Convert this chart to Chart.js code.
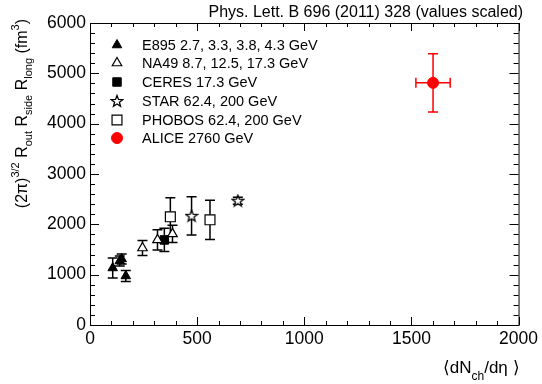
<!DOCTYPE html>
<html>
<head>
<meta charset="utf-8">
<script src="https://cdn.jsdelivr.net/npm/chart.js@4.4.0/dist/chart.umd.min.js"></script>
<style>
  html, body { margin: 0; padding: 0; background: #fff; }
  #wrap { width: 542px; height: 384px; position: relative; }
</style>
</head>
<body>
<div id="wrap"><canvas id="chart"></canvas></div>
<script>
// data
const e895X = [106, 139, 148, 167];
const e895Y = [1133, 1272, 1312, 974];
const e895Err = [200, 100, 100, 110];

const na49X = [245, 315, 385];
const na49Y = [1530, 1690, 1810];
const na49Err = [150, 200, 170];

const ceresX = [347];
const ceresY = [1690];
const ceresErr = [230];

const starX = [474, 690];
const starY = [2170, 2470];
const starErr = [380, 70];

const phobosX = [375, 560];
const phobosY = [2150, 2090];
const phobosErr = [380, 390];

const aliceX = [1601];
const aliceY = [4811];
const aliceErr = [580];
const aliceXErr = [80];

const xTickValues = [0, 500, 1000, 1500, 2000];
const yTickValues = [0, 1000, 2000, 3000, 4000, 5000, 6000];

const legendLabels = [
  'E895 2.7, 3.3, 3.8, 4.3 GeV',
  'NA49 8.7, 12.5, 17.3 GeV',
  'CERES 17.3 GeV',
  'STAR 62.4, 200 GeV',
  'PHOBOS 62.4, 200 GeV',
  'ALICE 2760 GeV',
];

const FONT = '"Liberation Sans", Arial, Helvetica, sans-serif';

function points(xs, ys, yErr, xErr) {
  return xs.map((x, i) => ({ x, y: ys[i], yErr: yErr[i], xErr: xErr ? xErr[i] : 0 }));
}

// open five-pointed star marker
function makeStar(size) {
  const c = document.createElement('canvas');
  c.width = size; c.height = size;
  const g = c.getContext('2d');
  const cx = size / 2, cy = size / 2 + 0.5, R = size / 2 - 1, r = R * 0.42;
  g.beginPath();
  for (let i = 0; i < 10; i++) {
    const a = -Math.PI / 2 + i * Math.PI / 5;
    const rr = i % 2 ? r : R;
    g.lineTo(cx + rr * Math.cos(a), cy + rr * Math.sin(a));
  }
  g.closePath();
  g.fillStyle = '#fff';
  g.fill();
  g.lineWidth = 1.3;
  g.strokeStyle = '#000';
  g.stroke();
  return c;
}
const starImg = makeStar(14);

const datasets = [
  { label: legendLabels[0], data: points(e895X, e895Y, e895Err), pointStyle: 'triangle', pointRadius: 5.5, backgroundColor: '#000', borderColor: '#000', borderWidth: 1, errColor: '#000' },
  { label: legendLabels[1], data: points(na49X, na49Y, na49Err), pointStyle: 'triangle', pointRadius: 5.5, backgroundColor: '#fff', borderColor: '#000', borderWidth: 1.2, errColor: '#000' },
  { label: legendLabels[2], data: points(ceresX, ceresY, ceresErr), pointStyle: 'rect', pointRadius: 6, backgroundColor: '#000', borderColor: '#000', borderWidth: 1, errColor: '#000' },
  { label: legendLabels[3], data: points(starX, starY, starErr), pointStyle: starImg, pointRadius: 7, backgroundColor: '#fff', borderColor: '#000', errColor: '#000' },
  { label: legendLabels[4], data: points(phobosX, phobosY, phobosErr), pointStyle: 'rect', pointRadius: 7, backgroundColor: '#fff', borderColor: '#000', borderWidth: 1.2, errColor: '#000' },
  { label: legendLabels[5], data: points(aliceX, aliceY, aliceErr, aliceXErr), pointStyle: 'circle', pointRadius: 5.5, backgroundColor: '#ff0000', borderColor: '#ff0000', borderWidth: 1, errColor: '#ff0000' },
];

const errorBars = {
  id: 'errorBars',
  beforeDatasetsDraw(chart) {
    const { ctx, scales: { x, y } } = chart;
    ctx.save();
    ctx.lineWidth = 1.5;
    chart.data.datasets.forEach(ds => {
      ctx.strokeStyle = ds.errColor;
      ds.data.forEach(p => {
        const px = x.getPixelForValue(p.x), py = y.getPixelForValue(p.y);
        const cap = 5;
        if (p.yErr) {
          const t = y.getPixelForValue(p.y + p.yErr), b = y.getPixelForValue(p.y - p.yErr);
          ctx.beginPath();
          ctx.moveTo(px, t); ctx.lineTo(px, b);
          ctx.moveTo(px - cap, t); ctx.lineTo(px + cap, t);
          ctx.moveTo(px - cap, b); ctx.lineTo(px + cap, b);
          ctx.stroke();
        }
        if (p.xErr) {
          const l = x.getPixelForValue(p.x - p.xErr), r = x.getPixelForValue(p.x + p.xErr);
          ctx.beginPath();
          ctx.moveTo(l, py); ctx.lineTo(r, py);
          ctx.moveTo(l, py - cap); ctx.lineTo(l, py + cap);
          ctx.moveTo(r, py - cap); ctx.lineTo(r, py + cap);
          ctx.stroke();
        }
      });
    });
    ctx.restore();
  }
};

// ROOT style frame: inward ticks on all four sides
const frame = {
  id: 'frame',
  afterDraw(chart) {
    const { ctx, chartArea: a, scales: { x, y } } = chart;
    ctx.save();
    ctx.strokeStyle = '#000';
    ctx.lineWidth = 1;
    ctx.strokeRect(a.left + 0.5, a.top + 0.5, a.right - a.left, a.bottom - a.top);
    ctx.beginPath();
    for (let v = 0; v <= 2000; v += 100) {
      const px = Math.round(x.getPixelForValue(v)) + 0.5;
      const len = v % 500 === 0 ? 8 : 4;
      ctx.moveTo(px, a.bottom); ctx.lineTo(px, a.bottom - len);
      ctx.moveTo(px, a.top); ctx.lineTo(px, a.top + len);
    }
    for (let v = 0; v <= 6000; v += 200) {
      const py = Math.round(y.getPixelForValue(v)) + 0.5;
      const len = v % 1000 === 0 ? 9 : 5;
      ctx.moveTo(a.left, py); ctx.lineTo(a.left + len, py);
      ctx.moveTo(a.right, py); ctx.lineTo(a.right - len, py);
    }
    ctx.stroke();
    ctx.restore();
  }
};

function measureParts(ctx, parts, size) {
  let w = 0;
  parts.forEach(p => {
    ctx.font = (p.small ? Math.round(size * 0.68) : size) + 'px ' + FONT;
    p.w = ctx.measureText(p.t).width;
    w += p.w;
  });
  return w;
}

function renderParts(ctx, parts, size, x0, base) {
  let x = x0;
  parts.forEach(p => {
    ctx.font = (p.small ? Math.round(size * 0.68) : size) + 'px ' + FONT;
    ctx.fillText(p.t, x, base + (p.dy || 0));
    x += p.w;
  });
}

const texts = {
  id: 'texts',
  afterDraw(chart) {
    const { ctx, chartArea: a } = chart;
    ctx.save();
    ctx.fillStyle = '#000';
    ctx.textBaseline = 'alphabetic';

    // title
    ctx.font = '16px ' + FONT;
    ctx.textAlign = 'right';
    ctx.fillText('Phys. Lett. B 696 (2011) 328 (values scaled)', 523, 17);
    ctx.textAlign = 'left';

    // x title
    const xParts = [
      { t: '\u27E8dN' }, { t: 'ch', small: true, dy: 7 }, { t: '/d\u03B7 \u27E9' }
    ];
    const xw = measureParts(ctx, xParts, 17);
    renderParts(ctx, xParts, 17, a.right - xw + 1, 373);

    // y title
    const yParts = [
      { t: '(2\u03C0)' }, { t: '3/2', small: true, dy: -8 },
      { t: ' R' }, { t: 'out', small: true, dy: 5 },
      { t: ' R' }, { t: 'side', small: true, dy: 5 },
      { t: ' R' }, { t: 'long', small: true, dy: 5 },
      { t: ' (fm' }, { t: '3', small: true, dy: -8 }, { t: ')' }
    ];
    const yw = measureParts(ctx, yParts, 16);
    ctx.translate(27, 0);
    ctx.rotate(-Math.PI / 2);
    renderParts(ctx, yParts, 16, -19 - yw, 0);
    ctx.setTransform(1, 0, 0, 1, 0, 0);

    // legend
    const rows = [45, 63, 82, 101, 120, 138];
    chart.data.datasets.forEach((ds, i) => {
      const opts = {
        pointStyle: ds.pointStyle,
        radius: ds.pointRadius,
        rotation: 0,
        borderWidth: ds.borderWidth || 1,
      };
      ctx.fillStyle = ds.backgroundColor;
      ctx.strokeStyle = ds.borderColor;
      ctx.lineWidth = opts.borderWidth;
      Chart.helpers.drawPoint(ctx, opts, 117, rows[i]);
      ctx.fillStyle = '#000';
      ctx.font = '14.5px ' + FONT;
      ctx.textBaseline = 'middle';
      ctx.fillText(ds.label, 142, rows[i] + 1);
    });
    ctx.restore();
  }
};

new Chart(document.getElementById('chart'), {
  type: 'scatter',
  data: { datasets },
  options: {
    responsive: true,
    maintainAspectRatio: false,
    animation: false,
    layout: { padding: { top: 23, right: 20, left: 0, bottom: 0 } },
    plugins: { legend: { display: false }, tooltip: { enabled: false } },
    scales: {
      x: {
        type: 'linear', min: 0, max: 2000,
        afterFit: s => { s.height = 59; },
        afterBuildTicks: s => { s.ticks = xTickValues.map(v => ({ value: v })); },
        grid: { display: false, drawTicks: false },
        border: { display: false },
        ticks: { color: '#000', font: { family: FONT, size: 17.5 }, padding: 4, maxRotation: 0, callback: v => String(v) },
      },
      y: {
        type: 'linear', min: 0, max: 6000,
        afterFit: s => { s.width = 90; },
        afterBuildTicks: s => { s.ticks = yTickValues.map(v => ({ value: v })); },
        grid: { display: false, drawTicks: false },
        border: { display: false },
        ticks: { color: '#000', font: { family: FONT, size: 17.5 }, padding: 4, callback: v => String(v) },
      },
    },
  },
  plugins: [errorBars, frame, texts],
});
</script>
</body>
</html>
